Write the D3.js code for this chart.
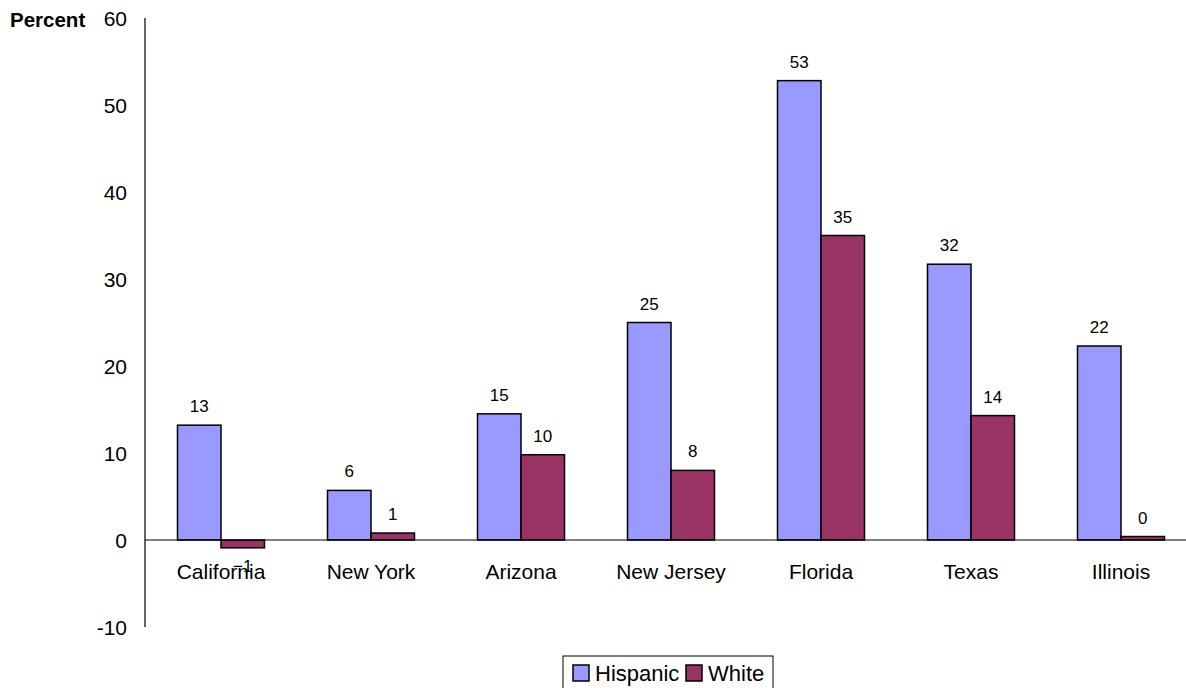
<!DOCTYPE html>
<html>
<head>
<meta charset="utf-8">
<script src="https://cdn.jsdelivr.net/npm/d3@7"></script>
<style>
body { margin: 0; background: #fff; }
svg { font-family: Arial, "Liberation Sans", sans-serif; }
</style>
</head>
<body>
<div id="chart"></div>
<script>
var svgWidth = 1186;
var svgHeight = 688;

// data
var states = ["California", "New York", "Arizona", "New Jersey", "Florida", "Texas", "Illinois"];
var hispanic = [13.2, 5.7, 14.5, 25.0, 52.8, 31.7, 22.3];
var white = [-0.9, 0.8, 9.8, 8.0, 35.0, 14.3, 0.4];
var seriesNames = ["Hispanic", "White"];
var seriesColors = ["#9999FF", "#993366"];
var yTicks = [-10, 0, 10, 20, 30, 40, 50, 60];

var svg = d3.select("#chart")
.append("svg")
.attr("width", svgWidth)
.attr("height", svgHeight);

var yLinearScale = d3.scaleLinear()
.domain([-10, 60])
.range([627, 18]);

var xBandScale = d3.scaleBand()
.domain(states)
.range([146, 1196])
.paddingInner(0.42)
.paddingOuter(0.21);

var xInner = d3.scaleBand()
.domain(seriesNames)
.range([0, xBandScale.bandwidth()]);

// y axis line, no ticks
svg.append("line")
.attr("x1", 145).attr("x2", 145)
.attr("y1", yLinearScale(60)).attr("y2", yLinearScale(-10))
.attr("stroke", "#000")
.attr("stroke-width", 1.2);

svg.append("g")
.selectAll("text")
.data(yTicks)
.enter()
.append("text")
.attr("x", 127)
.attr("y", d => yLinearScale(d))
.attr("dy", "0.36em")
.attr("text-anchor", "end")
.attr("font-size", "21px")
.attr("fill", "#000")
.text(d => d);

svg.append("text")
.attr("x", 10)
.attr("y", 27)
.attr("font-size", "20.5px")
.attr("font-weight", "bold")
.text("Percent");

var rows = states.map((s, i) => ({state: s, values: [hispanic[i], white[i]]}));

var groups = svg.append("g")
.selectAll("g")
.data(rows)
.enter()
.append("g")
.attr("transform", d => `translate(${xBandScale(d.state)},0)`);

groups.selectAll("rect")
.data(d => d.values.map((v, j) => ({name: seriesNames[j], value: v, color: seriesColors[j]})))
.enter()
.append("rect")
.attr("x", d => xInner(d.name))
.attr("y", d => yLinearScale(Math.max(0, d.value)))
.attr("width", xInner.bandwidth())
.attr("height", d => Math.abs(yLinearScale(d.value) - yLinearScale(0)))
.attr("fill", d => d.color)
.attr("stroke", "#000")
.attr("stroke-width", 1.5);

// zero line
svg.append("line")
.attr("x1", 145).attr("x2", svgWidth)
.attr("y1", yLinearScale(0)).attr("y2", yLinearScale(0))
.attr("stroke", "#000")
.attr("stroke-width", 1.2);

var fmt = d3.format(".0f");

groups.selectAll("text.val")
.data(d => d.values.map((v, j) => ({name: seriesNames[j], value: v})))
.enter()
.append("text")
.attr("class", "val")
.attr("x", d => xInner(d.name) + xInner.bandwidth() / 2)
.attr("y", d => d.value < 0 ? yLinearScale(0) + 32 : yLinearScale(d.value) - 13)
.attr("text-anchor", "middle")
.attr("font-size", "17px")
.text(d => fmt(d.value));

svg.append("g")
.selectAll("text")
.data(states)
.enter()
.append("text")
.attr("x", d => xBandScale(d) + xBandScale.bandwidth() / 2)
.attr("y", 579)
.attr("text-anchor", "middle")
.attr("font-size", "21px")
.text(d => d);

// legend
var legend = svg.append("g")
.attr("transform", "translate(563,656)");

legend.append("rect")
.attr("x", 0).attr("y", 0)
.attr("width", 210).attr("height", 40)
.attr("fill", "#fff")
.attr("stroke", "#000")
.attr("stroke-width", 1);

var legendX = [10, 123];
seriesNames.forEach(function(name, i) {
    legend.append("rect")
    .attr("x", legendX[i]).attr("y", 9)
    .attr("width", 16).attr("height", 16)
    .attr("fill", seriesColors[i])
    .attr("stroke", "#000")
    .attr("stroke-width", 1.5);
    legend.append("text")
    .attr("x", legendX[i] + 22)
    .attr("y", 25)
    .attr("font-size", "22px")
    .text(name);
});
</script>
</body>
</html>
